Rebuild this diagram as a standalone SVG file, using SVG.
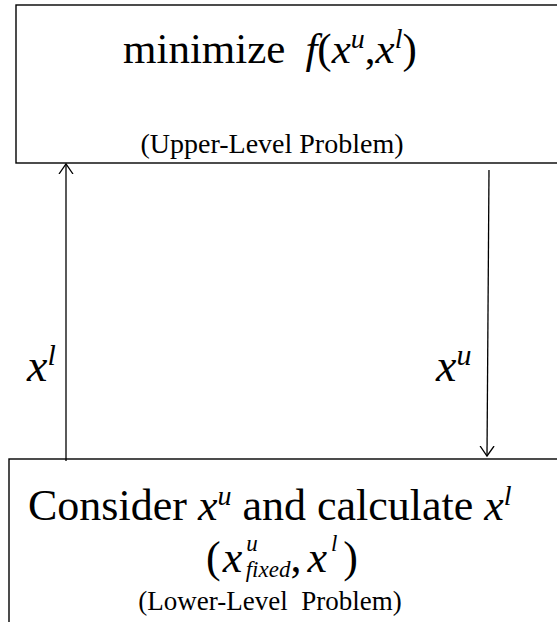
<svg xmlns="http://www.w3.org/2000/svg" width="557" height="622" viewBox="0 0 557 622" font-family="'Liberation Serif', 'Times New Roman', Times, serif">
<style>
  .box { fill: #ffffff; stroke: #000000; stroke-width: 1.4; }
  .conn { stroke: #000000; stroke-width: 1.3; fill: none; }
  .t { font-family: 'Liberation Serif', 'Times New Roman', Times, serif; fill: #000000; }
  .it { font-style: italic; }
</style>
<defs>
  <marker id="arr" markerUnits="userSpaceOnUse" markerWidth="20" markerHeight="20" refX="10" refY="10" orient="auto" viewBox="0 0 20 20">
    <path d="M0,3 L10,10 L0,17" fill="none" stroke="#000000" stroke-width="1.3"/>
  </marker>
</defs>
<rect width="557" height="622" fill="#ffffff"/>
<g id="upper">
  <rect class="box" x="16" y="5" width="560" height="158"/>
  <text class="t" x="123" y="63" font-size="43">minimize<tspan dx="20" class="it">f</tspan>(<tspan class="it">x</tspan><tspan class="it" font-size="28" dy="-15">u</tspan><tspan dy="15">,</tspan><tspan class="it">x</tspan><tspan class="it" font-size="28" dy="-15">l</tspan><tspan dy="15">)</tspan></text>
  <text class="t" x="272" y="153" font-size="28" text-anchor="middle">(Upper-Level Problem)</text>
</g>
<g id="lower">
  <rect class="box" x="9" y="459" width="560" height="200"/>
  <text class="t" x="28" y="520" font-size="44">Consider <tspan class="it">x</tspan><tspan class="it" font-size="28" dy="-15">u</tspan><tspan dy="15"> and calculate </tspan><tspan class="it">x</tspan><tspan class="it" font-size="28" dy="-15">l</tspan></text>
  <text class="t" x="206" y="572" font-size="44">(<tspan class="it" dx="2">x</tspan><tspan class="it" font-size="23" dx="4" dy="-21">u</tspan><tspan class="it" font-size="23" dx="-12" dy="26">fixed</tspan><tspan dy="-5">,</tspan><tspan class="it" dx="6">x</tspan><tspan class="it" font-size="23" dx="4" dy="-21">l</tspan><tspan dx="6" dy="21">)</tspan></text>
  <text class="t" x="270" y="610" font-size="27" text-anchor="middle" xml:space="preserve">(Lower-Level  Problem)</text>
</g>
<g id="connectors">
  <line class="conn" x1="66" y1="461" x2="66" y2="164" marker-end="url(#arr)"/>
  <line class="conn" x1="489" y1="170" x2="487" y2="456" marker-end="url(#arr)"/>
  <text class="t it" x="27" y="381" font-size="46">x<tspan font-size="30" dy="-16">l</tspan></text>
  <text class="t it" x="436" y="381" font-size="46">x<tspan font-size="30" dy="-16">u</tspan></text>
</g>
</svg>
